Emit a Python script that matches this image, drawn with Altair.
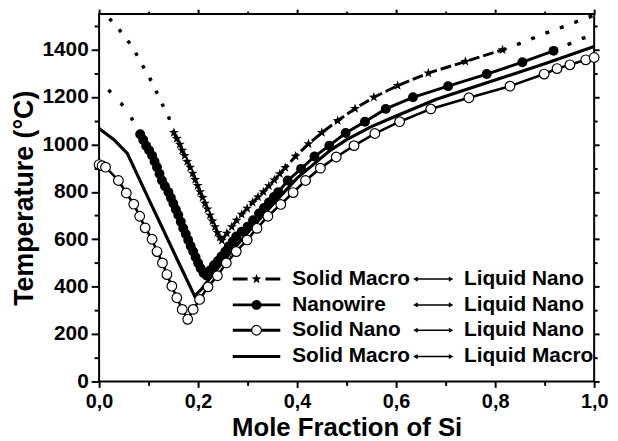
import altair as alt
import pandas as pd

# ---------------- data ----------------
# Solid Macro <-> Liquid Nano (stars)
star_x = [0.151, 0.157, 0.163, 0.168, 0.173, 0.178, 0.184, 0.189, 0.194, 0.199, 0.204, 0.209,
          0.214, 0.219, 0.224, 0.229, 0.234, 0.239, 0.244, 0.248,
          0.258, 0.268, 0.278, 0.288, 0.299, 0.310, 0.321, 0.332, 0.343, 0.354, 0.365, 0.376,
          0.397, 0.423, 0.450, 0.482, 0.517, 0.555, 0.603, 0.665, 0.740, 0.815]
star_y = [1050, 1025, 1000, 975, 953, 928, 903, 878, 852, 826, 800, 776,
          751, 727, 702, 677, 652, 628, 608, 595,
          625, 652, 680, 705, 730, 755, 778, 800, 825, 850, 876, 902,
          950, 1002, 1050, 1100, 1151, 1199, 1248, 1301, 1350, 1399]
star_dot_left_x = [0.021, 0.047, 0.068, 0.084, 0.100, 0.114, 0.127, 0.141, 0.151]
star_dot_left_y = [1531, 1469, 1409, 1347, 1290, 1230, 1172, 1113, 1050]
star_dot_right_x = [0.815, 0.843, 0.873, 0.901, 0.931, 0.958, 0.988, 1.000]
star_dot_right_y = [1399, 1420, 1445, 1469, 1492, 1513, 1536, 1545]

# Nanowire <-> Liquid Nano (filled circles)
nw_x = [0.083, 0.089, 0.095, 0.101, 0.107, 0.112, 0.117, 0.122, 0.127, 0.133, 0.140, 0.145,
        0.150, 0.155, 0.160, 0.165, 0.170, 0.175, 0.180, 0.185, 0.190, 0.195, 0.200, 0.205,
        0.211, 0.217,
        0.224, 0.232, 0.240, 0.247, 0.255, 0.262, 0.270, 0.277, 0.288, 0.300, 0.311, 0.323,
        0.333, 0.343, 0.353, 0.362, 0.381, 0.408, 0.435, 0.465, 0.498, 0.537, 0.579, 0.634,
        0.705, 0.783, 0.855, 0.918]
nw_y = [1043, 1020, 995, 975, 953, 928, 904, 876, 848, 824, 799, 775,
        751, 726, 702, 674, 646, 622, 597, 572, 548, 524, 500, 478,
        458, 447,
        468, 490, 508, 527, 548, 570, 590, 612, 632, 653, 680, 709,
        732, 755, 778, 799, 848, 897, 949, 995, 1048, 1096, 1150, 1199,
        1246, 1297, 1347, 1395]
nw_dot_left_x = [0.019, 0.045, 0.065, 0.083]
nw_dot_left_y = [1230, 1172, 1113, 1043]
nw_dot_right_x = [0.918, 0.950, 0.977, 1.000]
nw_dot_right_y = [1395, 1424, 1448, 1466]

# Solid Nano <-> Liquid Nano (open circles)
sn_x = [0.000, 0.006, 0.013, 0.039, 0.055, 0.070, 0.082, 0.093, 0.107, 0.117, 0.128, 0.137,
        0.147, 0.157, 0.168, 0.179, 0.190, 0.203, 0.220, 0.239, 0.257, 0.277, 0.299, 0.319,
        0.341, 0.367, 0.392, 0.417, 0.447, 0.479, 0.515, 0.557, 0.607, 0.670, 0.747, 0.830,
        0.899, 0.925, 0.951, 0.983, 1.000]
sn_y = [915, 910, 904, 848, 795, 748, 697, 648, 600, 548, 500, 451,
        402, 353, 304, 262, 304, 346, 399, 446, 500, 548, 597, 646,
        697, 747, 797, 848, 900, 947, 995, 1046, 1096, 1150, 1197, 1246,
        1297, 1320, 1336, 1357, 1367]

# Solid Macro <-> Liquid Macro (solid line)
sm_x = [0.000, 0.030, 0.057, 0.100, 0.130, 0.160, 0.193, 0.207, 0.250, 0.300, 0.350, 0.400,
        0.467, 0.500, 0.550, 0.600, 0.680, 0.800, 0.900, 1.000]
sm_y = [1067, 1020, 962, 770, 638, 505, 360, 390, 505, 628, 745, 858,
        975, 1020, 1075, 1120, 1190, 1272, 1340, 1413]

legend_left = ["Solid Macro", "Nanowire", "Solid Nano", "Solid Macro"]
legend_right = ["Liquid Nano", "Liquid Nano", "Liquid Nano", "Liquid Macro"]
legend_key = ["star", "nw", "sn", "sm"]

x_ticks = [0.0, 0.1, 0.2, 0.3, 0.4, 0.5, 0.6, 0.7, 0.8, 0.9, 1.0]
y_ticks = [0, 100, 200, 300, 400, 500, 600, 700, 800, 900, 1000, 1100, 1200, 1300, 1400, 1500]

# ---------------- layout / style constants ----------------
FONT = "Liberation Sans"
STAR = ("M0,-1L0.235,-0.324L0.951,-0.309L0.38,0.124L0.588,0.809L0,0.4"
        "L-0.588,0.809L-0.38,0.124L-0.951,-0.309L-0.235,-0.324Z")
leg_y = [432, 323, 216, 105]
leg_sym = (0.270, 0.366, 0.318)
leg_txt1 = 0.390
leg_arrow = (0.639, 0.711)
leg_txt2 = 0.737


def df(xs, ys):
    return pd.DataFrame({"x": xs, "y": ys})


xsc = alt.Scale(domain=[0, 1], nice=False, zero=False)
ysc = alt.Scale(domain=[0, 1550], nice=False, zero=False)


def enc(ch, xaxis=None, yaxis=None):
    return ch.encode(
        x=alt.X("x:Q", scale=xsc, axis=xaxis),
        y=alt.Y("y:Q", scale=ysc, axis=yaxis),
    )


star_df, nw_df, sn_df, sm_df = df(star_x, star_y), df(nw_x, nw_y), df(sn_x, sn_y), df(sm_x, sm_y)

layers = []
layers.append(enc(alt.Chart(sm_df).mark_line(color="black", strokeWidth=3.2)))
layers.append(enc(alt.Chart(df(star_dot_left_x, star_dot_left_y)).mark_line(
    color="black", strokeWidth=3.5, strokeDash=[3.5, 11])))
layers.append(enc(alt.Chart(df(star_dot_right_x, star_dot_right_y)).mark_line(
    color="black", strokeWidth=3.5, strokeDash=[4, 11.5])))
layers.append(enc(alt.Chart(df(nw_dot_left_x, nw_dot_left_y)).mark_line(
    color="black", strokeWidth=3.5, strokeDash=[3.5, 14.5])))
layers.append(enc(alt.Chart(df(nw_dot_right_x, nw_dot_right_y)).mark_line(
    color="black", strokeWidth=3.5, strokeDash=[4, 11.5])))
layers.append(enc(alt.Chart(star_df).mark_line(color="black", strokeWidth=3, strokeDash=[11, 4])))
layers.append(enc(alt.Chart(star_df).mark_point(shape=STAR, filled=True, color="black",
                                                 size=110, opacity=1)))
layers.append(enc(alt.Chart(nw_df).mark_line(color="black", strokeWidth=3)))
layers.append(enc(alt.Chart(nw_df).mark_point(shape="circle", filled=True, color="black",
                                               size=100, opacity=1)))
layers.append(enc(alt.Chart(sn_df).mark_line(color="black", strokeWidth=2.6)))
layers.append(enc(alt.Chart(sn_df).mark_point(shape="circle", filled=True, fill="white",
                                               stroke="black", strokeWidth=1.2, size=95,
                                               opacity=1)))

# ---------------- legend (drawn in data coordinates) ----------------
leg_df = pd.DataFrame({"y": leg_y, "left": legend_left, "right": legend_right, "key": legend_key})
leg_df["x1"] = leg_sym[0]
leg_df["x2"] = leg_sym[1]
leg_df["xm"] = leg_sym[2]
leg_df["xt1"] = leg_txt1
leg_df["xt2"] = leg_txt2
leg_df["xa1"] = leg_arrow[0]
leg_df["xa2"] = leg_arrow[1]


def lx(field):
    return alt.X(f"{field}:Q", scale=xsc, axis=None)


LY = alt.Y("y:Q", scale=ysc, axis=None)

base_leg = alt.Chart(leg_df)
layers.append(base_leg.transform_filter("datum.key == 'star'").mark_rule(
    color="black", strokeWidth=3, strokeDash=[15, 18]).encode(x=lx("x1"), x2="x2", y=LY))
layers.append(base_leg.transform_filter("datum.key != 'star'").mark_rule(
    color="black", strokeWidth=3).encode(x=lx("x1"), x2="x2", y=LY))
layers.append(base_leg.transform_filter("datum.key == 'star'").mark_point(
    shape=STAR, filled=True, color="black", size=110, opacity=1).encode(x=lx("xm"), y=LY))
layers.append(base_leg.transform_filter("datum.key == 'nw'").mark_point(
    shape="circle", filled=True, color="black", size=100, opacity=1).encode(x=lx("xm"), y=LY))
layers.append(base_leg.transform_filter("datum.key == 'sn'").mark_point(
    shape="circle", filled=True, fill="white", stroke="black", strokeWidth=1.2, size=95,
    opacity=1).encode(x=lx("xm"), y=LY))
layers.append(base_leg.mark_rule(color="black", strokeWidth=1.5).encode(
    x=lx("xa1"), x2="xa2", y=LY))
layers.append(base_leg.mark_point(shape="triangle-left", filled=True, color="black",
                                  size=28, opacity=1).encode(x=lx("xa1"), y=LY))
layers.append(base_leg.mark_point(shape="triangle-right", filled=True, color="black",
                                  size=28, opacity=1).encode(x=lx("xa2"), y=LY))
layers.append(base_leg.mark_text(align="left", baseline="middle", font=FONT, fontSize=21,
                                 fontWeight="bold", color="black").encode(
    x=lx("xt1"), y=LY, text="left:N"))
layers.append(base_leg.mark_text(align="left", baseline="middle", font=FONT, fontSize=21,
                                 fontWeight="bold", color="black").encode(
    x=lx("xt2"), y=LY, text="right:N"))

# ---------------- axes ----------------
common = dict(domain=False, grid=False, tickColor="black", labelColor="black",
              titleColor="black", labelFont=FONT, titleFont=FONT, labelFontWeight="bold",
              titleFontWeight="bold", tickWidth=2, labelFlush=False, labelOverlap=False)
x_major_test = "round(datum.value * 10) % 2 === 0"
y_major_test = "datum.value % 200 === 0"
x_lab = "round(datum.value * 10) % 2 === 0 ? replace(format(datum.value, '.1f'), '.', ',') : ''"
y_lab = "datum.value % 200 === 0 ? format(datum.value, 'd') : ''"

ax_main = enc(alt.Chart(sm_df).mark_point(opacity=0),
              xaxis=alt.Axis(orient="bottom", values=x_ticks, labelExpr=x_lab,
                             title="Mole Fraction of Si",
                             tickSize={"condition": {"test": x_major_test, "value": 6}, "value": 4},
                             labelFontSize=20, titleFontSize=26, labelPadding=4, titlePadding=4,
                             **common),
              yaxis=alt.Axis(orient="left", values=y_ticks, labelExpr=y_lab,
                             title="Temperature (°C)",
                             tickSize={"condition": {"test": y_major_test, "value": 8}, "value": 5},
                             labelFontSize=21, titleFontSize=27, labelPadding=3, titlePadding=4,
                             **common))
ax_other = enc(alt.Chart(sm_df).mark_point(opacity=0),
               xaxis=alt.Axis(orient="top", values=x_ticks, labels=False, title=None,
                              tickSize={"condition": {"test": x_major_test, "value": 5}, "value": 3},
                              **common),
               yaxis=alt.Axis(orient="right", values=y_ticks, labels=False, title=None,
                              tickSize={"condition": {"test": y_major_test, "value": 5}, "value": 3},
                              **common))

chart = alt.layer(ax_main, ax_other, *layers).resolve_axis(
    x="independent", y="independent"
).properties(
    width=500, height=371,
    autosize=alt.AutoSizeParams(type="none"),
    padding={"left": 92, "top": 4, "right": 16, "bottom": 58},
    background="white",
).configure_view(stroke="black", strokeWidth=2)

chart.save("out.html", embed_options={"renderer": "svg", "actions": False})
